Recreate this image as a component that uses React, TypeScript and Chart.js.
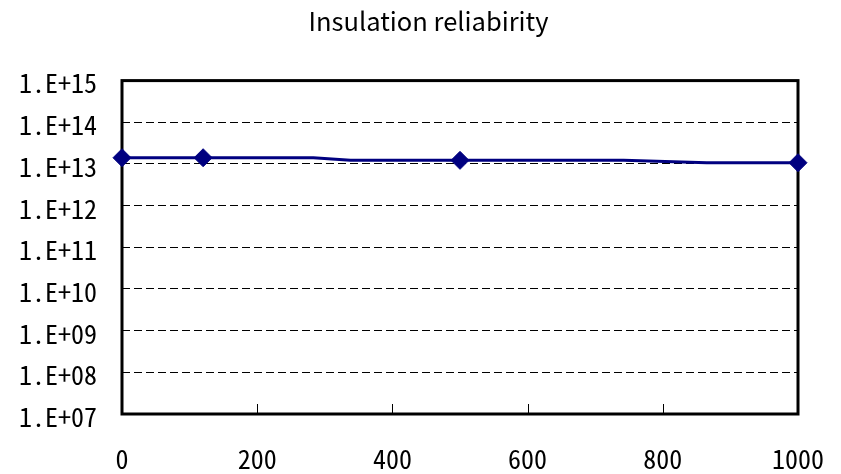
import React, { useEffect, useRef } from "react";
import { Chart, registerables } from "chart.js";

Chart.register(...registerables);

const chartTitle = "Insulation reliabirity";
// time values (hours) along the measured line; only some carry markers
const timeValues = [0, 120, 283, 338, 500, 742, 865, 1000];
const resistanceValues = [1.41e13, 1.41e13, 1.41e13, 1.22e13, 1.22e13, 1.22e13, 1.07e13, 1.07e13];
const markerShown = [true, true, false, false, true, false, false, true];

const yTickValues = [1e7, 1e8, 1e9, 1e10, 1e11, 1e12, 1e13, 1e14, 1e15];
const yTickLabels = ["1.E+07", "1.E+08", "1.E+09", "1.E+10", "1.E+11", "1.E+12", "1.E+13", "1.E+14", "1.E+15"];
const xTickValues = [0, 200, 400, 600, 800, 1000];
const xTickLabels = ["0", "200", "400", "600", "800", "1000"];

const MONO = '"Noto Sans Mono CJK JP", "Liberation Sans Narrow", "DejaVu Sans Condensed", sans-serif';
const PROP = '"Noto Sans CJK JP", "Liberation Sans", sans-serif';

const framePlugin = {
  id: "frame",
  beforeDatasetsDraw(chart: any) {
    const { ctx, chartArea } = chart;
    const xs = chart.scales.x;
    ctx.save();
    ctx.setLineDash([]);
    ctx.strokeStyle = "#000";
    ctx.lineWidth = 1;
    for (const v of xTickValues) {
      if (v === xTickValues[0] || v === xTickValues[xTickValues.length - 1]) continue;
      const px = Math.round(xs.getPixelForValue(v)) + 0.5;
      ctx.beginPath();
      ctx.moveTo(px, chartArea.bottom);
      ctx.lineTo(px, chartArea.bottom - 10);
      ctx.stroke();
    }
    ctx.lineWidth = 3;
    ctx.strokeRect(chartArea.left, chartArea.top, chartArea.right - chartArea.left, chartArea.bottom - chartArea.top);
    ctx.restore();
  },
};

export default function App() {
  const ref = useRef<HTMLCanvasElement | null>(null);
  useEffect(() => {
    if (!ref.current) return;
    const data = timeValues.map((t, i) => ({ x: t, y: resistanceValues[i] }));
    const chart = new Chart(ref.current, {
      type: "line",
      data: {
        datasets: [
          {
            data,
            borderColor: "#000080",
            backgroundColor: "#000080",
            borderWidth: 3,
            tension: 0,
            pointStyle: "rectRot",
            pointRadius: markerShown.map((m) => (m ? 9 : 0)),
            pointHoverRadius: markerShown.map((m) => (m ? 9 : 0)),
            pointBorderWidth: 1,
            pointBorderColor: "#000080",
            pointBackgroundColor: "#000080",
            clip: false as any,
            yAxisID: "y",
            xAxisID: "x",
          },
        ],
      },
      options: {
        animation: false,
        responsive: false,
        events: [],
        layout: { padding: { left: 16, right: 0, top: 0, bottom: 0 } },
        plugins: {
          legend: { display: false },
          tooltip: { enabled: false },
          title: {
            display: true,
            text: chartTitle,
            color: "#000",
            font: { family: PROP, size: 25.5, weight: "normal", lineHeight: 1.2 },
            padding: { top: 6, bottom: 44 },
          },
        },
        scales: {
          x: {
            type: "linear",
            min: 0,
            max: 1000,
            afterBuildTicks: (s: any) => {
              s.ticks = xTickValues.map((v) => ({ value: v }));
            },
            afterFit: (s: any) => {
              s.height = 60;
            },
            ticks: {
              color: "#000",
              font: { family: MONO, size: 26 },
              padding: 0,
              maxRotation: 0,
              autoSkip: false,
              callback: (_v: any, i: number) => xTickLabels[i],
            },
            grid: { display: false, drawTicks: true, tickLength: 30, tickColor: "rgba(0,0,0,0)" },
            border: { display: false },
          },
          y: {
            type: "logarithmic",
            position: "left",
            min: 1e7,
            max: 1e15,
            afterBuildTicks: (s: any) => {
              s.ticks = yTickValues.map((v) => ({ value: v }));
            },
            afterFit: (s: any) => {
              s.width = 106;
            },
            ticks: {
              color: "#000",
              font: { family: MONO, size: 26 },
              padding: 0,
              labelOffset: 3,
              autoSkip: false,
              callback: (_v: any, i: number) => yTickLabels[i],
            },
            grid: { color: "#000", lineWidth: 1, drawTicks: true, tickLength: 25, tickColor: "rgba(0,0,0,0)" },
            border: { display: false, dash: [8, 4] },
          },
          spacer: {
            type: "linear",
            position: "right",
            display: true,
            afterFit: (s: any) => {
              s.width = 43;
            },
            ticks: { display: false },
            grid: { display: false, drawTicks: false },
            border: { display: false },
          },
        },
      },
      plugins: [framePlugin],
    });
    return () => chart.destroy();
  }, []);
  return (
    <div style={{ position: "fixed", left: 0, top: 0, width: 841, height: 474, background: "#fff" }}>
      <canvas ref={ref} width={841} height={474} style={{ display: "block" }} />
    </div>
  );
}
